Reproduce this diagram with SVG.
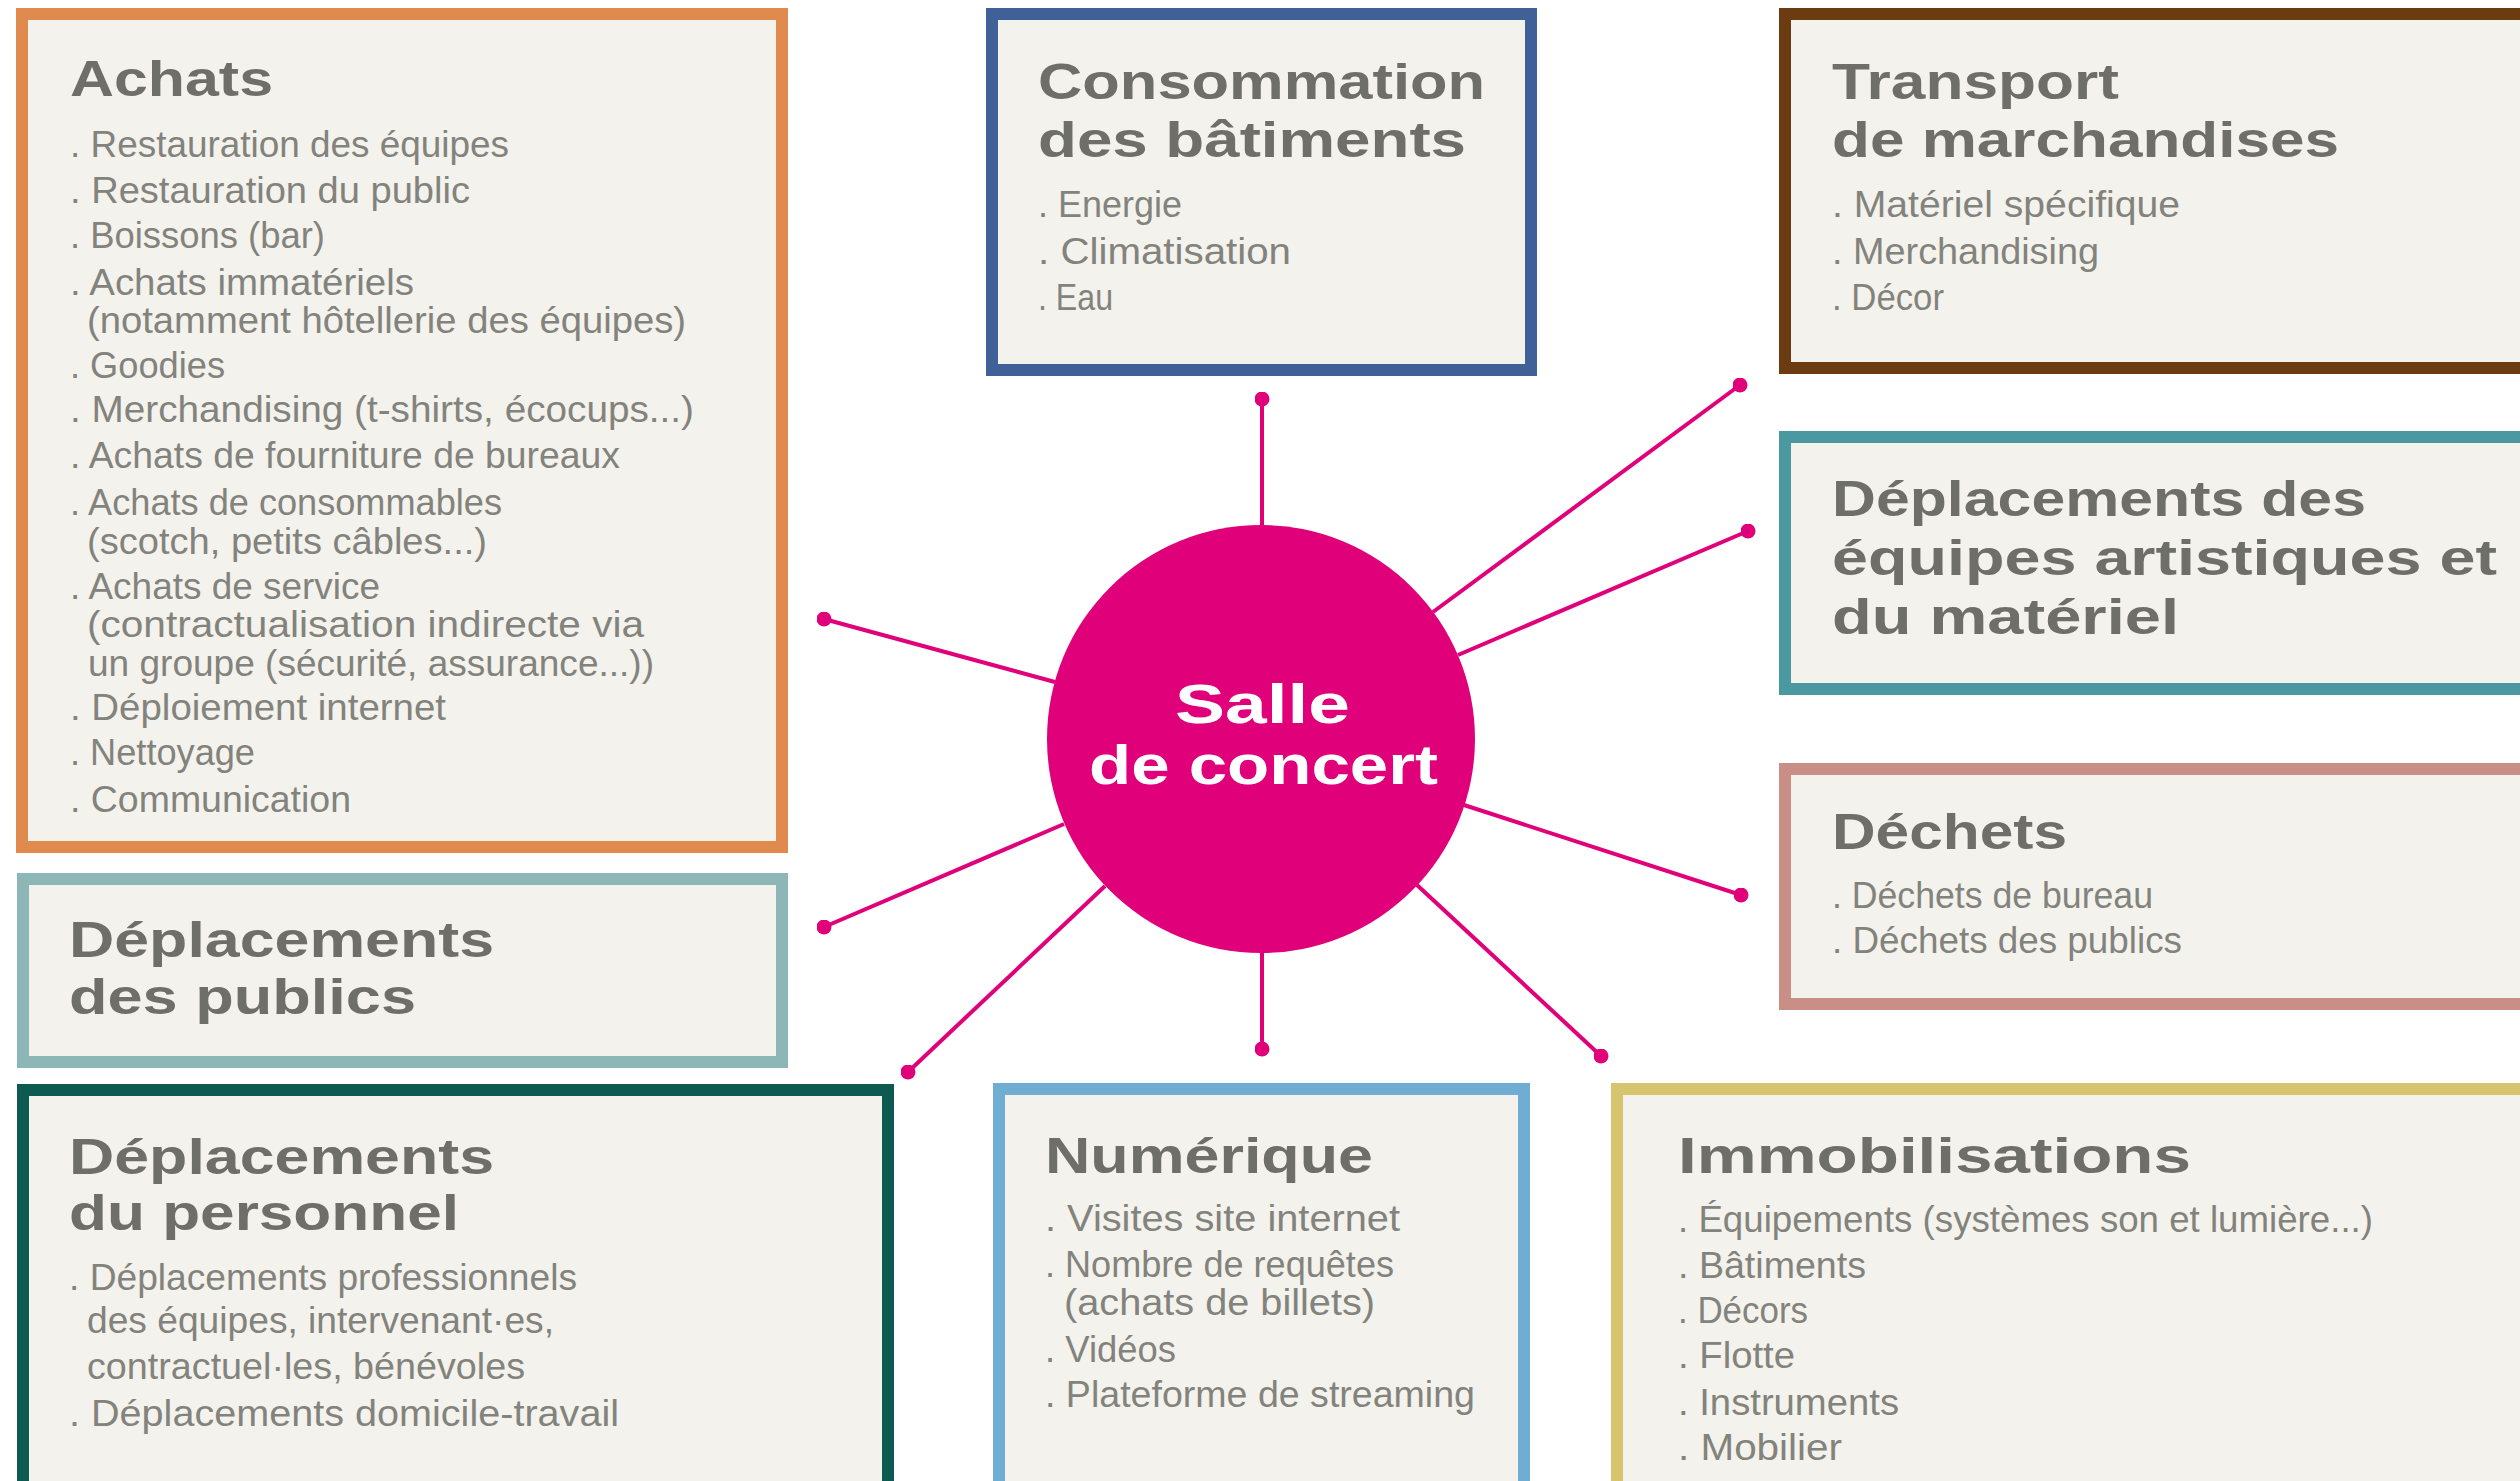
<svg xmlns="http://www.w3.org/2000/svg" width="2520" height="1481" viewBox="0 0 2520 1481">
<defs>
<style>
.box{fill:#F4F2EC;stroke-width:12}
.t{font-family:"Liberation Sans",Arial,sans-serif;font-weight:bold;font-size:50px;fill:#6F6F6A}
.b{font-family:"Liberation Sans",Arial,sans-serif;font-size:36px;fill:#83837D}
.c{font-family:"Liberation Sans",Arial,sans-serif;font-weight:bold;font-size:56px;fill:#FFFFFF}
.ln{stroke:#E0007A;stroke-width:4;fill:none}
</style>
<marker id="dot" viewBox="0 0 10 10" refX="5" refY="5" markerWidth="15" markerHeight="15" markerUnits="userSpaceOnUse"><circle cx="5" cy="5" r="5" fill="#E0007A"/></marker>
</defs>
<rect width="2520" height="1481" fill="#FFFFFF"/>

<g id="connectors">
<line class="ln" x1="1262" y1="525" x2="1262" y2="399" marker-end="url(#dot)"/>
<line class="ln" x1="1262" y1="953" x2="1262" y2="1049" marker-end="url(#dot)"/>
<line class="ln" x1="1433" y1="612" x2="1740" y2="385" marker-end="url(#dot)"/>
<line class="ln" x1="1458" y1="655" x2="1748" y2="531" marker-end="url(#dot)"/>
<line class="ln" x1="1055" y1="682" x2="824" y2="619" marker-end="url(#dot)"/>
<line class="ln" x1="1064" y1="824" x2="824" y2="927" marker-end="url(#dot)"/>
<line class="ln" x1="1105" y1="886" x2="908" y2="1072" marker-end="url(#dot)"/>
<line class="ln" x1="1464" y1="805" x2="1741" y2="895" marker-end="url(#dot)"/>
<line class="ln" x1="1417" y1="885" x2="1601" y2="1056" marker-end="url(#dot)"/>
</g>

<g id="center">
<circle cx="1261" cy="739" r="214" fill="#E0007A"/>
<text class="c" x="1175" y="723" textLength="175" lengthAdjust="spacingAndGlyphs">Salle</text>
<text class="c" x="1089" y="784" textLength="349" lengthAdjust="spacingAndGlyphs">de concert</text>
</g>

<g id="achats">
<rect class="box" x="22" y="14" width="760" height="833" stroke="#E08A4E"/>
<text class="t" x="70" y="96" textLength="203" lengthAdjust="spacingAndGlyphs">Achats</text>
<text class="b" x="70" y="157" textLength="439" lengthAdjust="spacingAndGlyphs">. Restauration des équipes</text>
<text class="b" x="70" y="203" textLength="400" lengthAdjust="spacingAndGlyphs">. Restauration du public</text>
<text class="b" x="70" y="248" textLength="255" lengthAdjust="spacingAndGlyphs">. Boissons (bar)</text>
<text class="b" x="70" y="295" textLength="344" lengthAdjust="spacingAndGlyphs">. Achats immatériels</text>
<text class="b" x="87" y="333" textLength="599" lengthAdjust="spacingAndGlyphs">(notamment hôtellerie des équipes)</text>
<text class="b" x="70" y="378" textLength="155" lengthAdjust="spacingAndGlyphs">. Goodies</text>
<text class="b" x="70" y="422" textLength="624" lengthAdjust="spacingAndGlyphs">. Merchandising (t-shirts, écocups...)</text>
<text class="b" x="70" y="468" textLength="550" lengthAdjust="spacingAndGlyphs">. Achats de fourniture de bureaux</text>
<text class="b" x="70" y="515" textLength="432" lengthAdjust="spacingAndGlyphs">. Achats de consommables</text>
<text class="b" x="87" y="554" textLength="400" lengthAdjust="spacingAndGlyphs">(scotch, petits câbles...)</text>
<text class="b" x="70" y="599" textLength="310" lengthAdjust="spacingAndGlyphs">. Achats de service</text>
<text class="b" x="87" y="637" textLength="557" lengthAdjust="spacingAndGlyphs">(contractualisation indirecte via</text>
<text class="b" x="88" y="676" textLength="566" lengthAdjust="spacingAndGlyphs">un groupe (sécurité, assurance...))</text>
<text class="b" x="70" y="720" textLength="376" lengthAdjust="spacingAndGlyphs">. Déploiement internet</text>
<text class="b" x="70" y="765" textLength="185" lengthAdjust="spacingAndGlyphs">. Nettoyage</text>
<text class="b" x="70" y="812" textLength="281" lengthAdjust="spacingAndGlyphs">. Communication</text>
</g>

<g id="consommation">
<rect class="box" x="992" y="14" width="539" height="356" stroke="#3F6197"/>
<text class="t" x="1038" y="99" textLength="447" lengthAdjust="spacingAndGlyphs">Consommation</text>
<text class="t" x="1038" y="157" textLength="428" lengthAdjust="spacingAndGlyphs">des bâtiments</text>
<text class="b" x="1038" y="217" textLength="144" lengthAdjust="spacingAndGlyphs">. Energie</text>
<text class="b" x="1038" y="264" textLength="253" lengthAdjust="spacingAndGlyphs">. Climatisation</text>
<text class="b" x="1038" y="310" textLength="75" lengthAdjust="spacingAndGlyphs">. Eau</text>
</g>

<g id="transport">
<rect class="box" x="1785" y="14" width="780" height="354" stroke="#6B3B12"/>
<text class="t" x="1832" y="99" textLength="287" lengthAdjust="spacingAndGlyphs">Transport</text>
<text class="t" x="1832" y="157" textLength="507" lengthAdjust="spacingAndGlyphs">de marchandises</text>
<text class="b" x="1832" y="217" textLength="348" lengthAdjust="spacingAndGlyphs">. Matériel spécifique</text>
<text class="b" x="1832" y="264" textLength="267" lengthAdjust="spacingAndGlyphs">. Merchandising</text>
<text class="b" x="1832" y="310" textLength="112" lengthAdjust="spacingAndGlyphs">. Décor</text>
</g>

<g id="deplacements-equipes">
<rect class="box" x="1785" y="437" width="780" height="252" stroke="#4A98A0"/>
<text class="t" x="1832" y="516" textLength="534" lengthAdjust="spacingAndGlyphs">Déplacements des</text>
<text class="t" x="1832" y="575" textLength="665" lengthAdjust="spacingAndGlyphs">équipes artistiques et</text>
<text class="t" x="1832" y="634" textLength="347" lengthAdjust="spacingAndGlyphs">du matériel</text>
</g>

<g id="dechets">
<rect class="box" x="1785" y="769" width="780" height="235" stroke="#C98F86"/>
<text class="t" x="1832" y="849" textLength="235" lengthAdjust="spacingAndGlyphs">Déchets</text>
<text class="b" x="1832" y="908" textLength="321" lengthAdjust="spacingAndGlyphs">. Déchets de bureau</text>
<text class="b" x="1832" y="953" textLength="350" lengthAdjust="spacingAndGlyphs">. Déchets des publics</text>
</g>

<g id="deplacements-publics">
<rect class="box" x="23" y="879" width="759" height="183" stroke="#8DB6B6"/>
<text class="t" x="69" y="957" textLength="425" lengthAdjust="spacingAndGlyphs">Déplacements</text>
<text class="t" x="69" y="1014" textLength="347" lengthAdjust="spacingAndGlyphs">des publics</text>
</g>

<g id="deplacements-personnel">
<rect class="box" x="23" y="1090" width="865" height="450" stroke="#0D5A52"/>
<text class="t" x="69" y="1174" textLength="425" lengthAdjust="spacingAndGlyphs">Déplacements</text>
<text class="t" x="69" y="1230" textLength="390" lengthAdjust="spacingAndGlyphs">du personnel</text>
<text class="b" x="69" y="1290" textLength="508" lengthAdjust="spacingAndGlyphs">. Déplacements professionnels</text>
<text class="b" x="87" y="1333" textLength="467" lengthAdjust="spacingAndGlyphs">des équipes, intervenant·es,</text>
<text class="b" x="87" y="1379" textLength="438" lengthAdjust="spacingAndGlyphs">contractuel·les, bénévoles</text>
<text class="b" x="69" y="1426" textLength="550" lengthAdjust="spacingAndGlyphs">. Déplacements domicile-travail</text>
</g>

<g id="numerique">
<rect class="box" x="999" y="1089" width="525" height="450" stroke="#6FAED2"/>
<text class="t" x="1045" y="1173" textLength="328" lengthAdjust="spacingAndGlyphs">Numérique</text>
<text class="b" x="1045" y="1231" textLength="355" lengthAdjust="spacingAndGlyphs">. Visites site internet</text>
<text class="b" x="1045" y="1277" textLength="349" lengthAdjust="spacingAndGlyphs">. Nombre de requêtes</text>
<text class="b" x="1064" y="1315" textLength="311" lengthAdjust="spacingAndGlyphs">(achats de billets)</text>
<text class="b" x="1045" y="1362" textLength="131" lengthAdjust="spacingAndGlyphs">. Vidéos</text>
<text class="b" x="1045" y="1407" textLength="430" lengthAdjust="spacingAndGlyphs">. Plateforme de streaming</text>
</g>

<g id="immobilisations">
<rect class="box" x="1617" y="1089" width="950" height="450" stroke="#D6C56E"/>
<text class="t" x="1678" y="1173" textLength="513" lengthAdjust="spacingAndGlyphs">Immobilisations</text>
<text class="b" x="1678" y="1232" textLength="695" lengthAdjust="spacingAndGlyphs">. Équipements (systèmes son et lumière...)</text>
<text class="b" x="1678" y="1278" textLength="188" lengthAdjust="spacingAndGlyphs">. Bâtiments</text>
<text class="b" x="1678" y="1323" textLength="130" lengthAdjust="spacingAndGlyphs">. Décors</text>
<text class="b" x="1678" y="1368" textLength="117" lengthAdjust="spacingAndGlyphs">. Flotte</text>
<text class="b" x="1678" y="1415" textLength="221" lengthAdjust="spacingAndGlyphs">. Instruments</text>
<text class="b" x="1678" y="1460" textLength="164" lengthAdjust="spacingAndGlyphs">. Mobilier</text>
</g>
</svg>
